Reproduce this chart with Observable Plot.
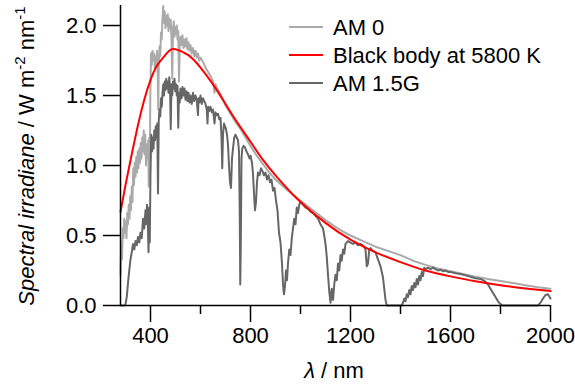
<!DOCTYPE html>
<html><head><meta charset="utf-8">
<script src="https://cdn.jsdelivr.net/npm/d3@7"></script>
<script src="https://cdn.jsdelivr.net/npm/@observablehq/plot@0.6"></script>
<style>body{margin:0;background:#fff}</style>
</head><body><div id="chart"></div>
<script>
// AM 0 (extraterrestrial) spectrum: [wavelength nm, W m-2 nm-1]
const am0 = [
[280,0.22],[283,0.45],[286,0.33],[289,0.55],[292,0.48],[295,0.62],[298,0.52],[301,0.60],[304,0.48],[307,0.66],
[310,0.58],[313,0.72],[316,0.62],[319,0.78],[322,0.68],[325,0.85],[328,0.74],[331,0.98],[334,0.86],[337,1.02],
[340,0.92],[343,1.06],[346,0.95],[349,1.10],[352,0.98],[355,1.12],[358,1.02],[361,1.16],[364,1.05],[367,1.20],
[370,1.10],[373,1.25],[376,1.08],[379,1.22],[382,1.00],[385,1.15],[388,1.05],[391,1.18],[393,0.85],[395,1.20],
[397,0.90],[399,1.45],[402,1.80],[405,1.72],[408,1.82],[411,1.75],[414,1.80],[417,1.70],[420,1.78],[423,1.72],
[426,1.82],[429,1.65],[431,1.40],[433,1.70],[436,1.85],[439,1.78],[442,1.95],[445,1.90],[448,2.05],[451,2.14],
[454,2.02],[457,2.10],[460,1.98],[463,2.07],[466,2.00],[469,2.08],[472,1.96],[475,2.05],[478,1.98],[481,2.04],
[484,1.90],[487,1.62],[490,1.98],[493,2.03],[496,1.92],[499,1.99],[502,1.94],[505,2.00],[508,1.90],[511,1.96],
[514,1.60],[517,1.85],[520,1.92],[524,1.86],[528,1.93],[532,1.84],[536,1.90],[540,1.85],[544,1.91],[548,1.83],
[552,1.88],[556,1.82],[560,1.86],[565,1.80],[570,1.84],[575,1.78],[580,1.82],[585,1.77],[590,1.80],[595,1.75],
[600,1.77],[610,1.74],[620,1.70],[630,1.67],[640,1.64],[650,1.60],[656,1.52],[660,1.58],[670,1.54],[680,1.51],
[690,1.47],[700,1.43],[720,1.37],[740,1.31],[760,1.26],[780,1.20],[800,1.14],[825,1.07],[850,1.01],[875,0.95],
[900,0.90],[950,0.82],[1000,0.75],[1050,0.68],[1100,0.61],[1150,0.55],[1200,0.50],[1250,0.46],[1300,0.42],
[1350,0.39],[1400,0.36],[1450,0.32],[1500,0.29],[1550,0.265],[1600,0.245],[1650,0.225],[1700,0.205],[1750,0.19],
[1800,0.175],[1850,0.16],[1900,0.145],[1950,0.13],[2000,0.12]
];
// Black body at 5800 K (scaled)
const blackBody = [
[280,0.67],[300,0.86],[325,1.08],[350,1.29],[375,1.47],[400,1.61],[425,1.71],[450,1.77],[475,1.82],[500,1.83],
[550,1.79],[600,1.70],[650,1.58],[700,1.44],[750,1.30],[800,1.17],[850,1.04],[900,0.93],[950,0.83],[1000,0.74],
[1100,0.59],[1200,0.47],[1300,0.38],[1400,0.31],[1500,0.25],[1600,0.208],[1700,0.173],[1800,0.145],[1900,0.122],[2000,0.103]
];
// AM 1.5G spectrum
const am15g = [
[280,0],[295,0],[300,0.01],[305,0.06],[310,0.16],[315,0.25],[320,0.33],[325,0.38],[330,0.44],[335,0.40],
[340,0.46],[345,0.43],[350,0.49],[355,0.45],[360,0.52],[365,0.48],[370,0.62],[375,0.55],[380,0.68],[383,0.58],
[386,0.72],[389,0.62],[392,0.38],[395,0.70],[397,0.45],[400,0.95],[403,1.22],[406,1.10],[409,1.20],[412,1.12],
[415,1.25],[418,1.18],[421,1.28],[424,1.20],[427,1.30],[430,0.80],[433,1.32],[436,1.40],[439,1.35],[442,1.48],
[445,1.42],[448,1.52],[451,1.58],[454,1.50],[457,1.60],[460,1.54],[463,1.62],[466,1.55],[469,1.60],[472,1.52],
[475,1.63],[478,1.55],[481,1.26],[484,1.58],[487,1.50],[490,1.60],[493,1.55],[496,1.62],[499,1.53],[502,1.58],
[505,1.50],[508,1.57],[511,1.27],[514,1.52],[517,1.45],[520,1.55],[524,1.48],[528,1.56],[532,1.50],[536,1.55],
[540,1.47],[544,1.53],[548,1.46],[552,1.52],[556,1.45],[560,1.50],[565,1.44],[570,1.52],[575,1.46],[580,1.50],
[585,1.47],[588,1.40],[590,1.36],[592,1.48],[596,1.45],[600,1.50],[605,1.44],[610,1.48],[615,1.46],[620,1.44],
[625,1.40],[628,1.30],[631,1.42],[635,1.39],[640,1.42],[645,1.38],[650,1.40],[656,1.30],[660,1.38],[665,1.36],
[670,1.37],[675,1.33],[680,1.34],[684,1.20],[687,0.98],[690,1.22],[694,1.30],[698,1.28],[702,1.26],[706,1.22],
[710,1.15],[714,1.00],[718,0.88],[722,0.84],[726,1.05],[730,1.12],[735,1.20],[740,1.22],[745,1.20],[750,1.18],
[754,1.10],[757,0.65],[759,0.15],[761,0.40],[764,1.05],[767,1.12],[772,1.14],[778,1.13],[784,1.10],[790,1.08],
[796,1.05],[800,1.07],[806,1.02],[810,0.94],[814,0.80],[818,0.68],[822,0.74],[826,0.88],[830,0.95],[836,0.93],
[842,0.98],[848,0.96],[854,0.93],[860,0.95],[866,0.90],[872,0.93],[878,0.88],[884,0.90],[890,0.82],[896,0.84],
[902,0.75],[908,0.68],[914,0.52],[920,0.45],[926,0.30],[930,0.15],[934,0.08],[938,0.14],[942,0.25],[946,0.18],
[950,0.30],[955,0.40],[960,0.36],[965,0.48],[970,0.55],[975,0.62],[980,0.58],[985,0.70],[990,0.66],[995,0.72],
[1000,0.74],[1010,0.72],[1020,0.70],[1030,0.69],[1040,0.67],[1050,0.66],[1060,0.64],[1070,0.62],[1080,0.58],
[1090,0.55],[1095,0.50],[1100,0.44],[1105,0.35],[1110,0.22],[1115,0.10],[1120,0.02],[1125,0.12],[1130,0.04],
[1135,0.15],[1140,0.22],[1145,0.18],[1150,0.30],[1155,0.25],[1160,0.36],[1165,0.32],[1170,0.40],[1175,0.37],
[1180,0.44],[1190,0.46],[1200,0.45],[1210,0.44],[1220,0.45],[1230,0.43],[1240,0.44],[1250,0.43],[1260,0.40],
[1265,0.28],[1270,0.30],[1275,0.40],[1280,0.41],[1290,0.39],[1300,0.38],[1310,0.33],[1320,0.28],[1330,0.20],
[1335,0.12],[1340,0.04],[1345,0],[1400,0],[1405,0],[1410,0.02],[1415,0.05],[1420,0.03],[1425,0.08],[1430,0.06],
[1435,0.11],[1440,0.08],[1445,0.14],[1450,0.11],[1455,0.16],[1460,0.13],[1465,0.19],[1470,0.15],[1475,0.21],
[1480,0.18],[1485,0.24],[1490,0.21],[1495,0.27],[1500,0.26],[1510,0.27],[1520,0.26],[1530,0.27],[1540,0.26],
[1550,0.25],[1560,0.255],[1570,0.245],[1580,0.25],[1590,0.24],[1600,0.24],[1620,0.23],[1640,0.225],[1660,0.215],
[1680,0.205],[1700,0.195],[1720,0.19],[1740,0.17],[1750,0.15],[1760,0.12],[1770,0.09],[1780,0.06],[1790,0.03],
[1800,0.01],[1810,0],[1950,0],[1960,0.02],[1970,0.05],[1980,0.075],[1990,0.08],[2000,0.05]
];
const xMajorTicks = [400, 800, 1200, 1600, 2000];
const xMinorTicks = [600, 1000, 1400, 1800];
const yTicks = [0, 0.5, 1.0, 1.5, 2.0];
const seriesLabels = ["AM 0", "Black body at 5800 K", "AM 1.5G"];
const seriesColors = ["#aaaaaa", "#ff0000", "#666666"];

const toRows = a => a.map(([nm, v]) => ({nm, v}));
const font = "'Liberation Sans', Arial, sans-serif";

const chart = Plot.plot({
  width: 575, height: 387,
  marginLeft: 120, marginRight: 25, marginTop: 5, marginBottom: 82,
  style: {fontFamily: font, fontSize: "22px", background: "white", color: "black"},
  x: {domain: [280, 2000]},
  y: {domain: [0, 2.143]},
  marks: [
    Plot.line(toRows(am0), {x: "nm", y: "v", stroke: seriesColors[0], strokeWidth: 2}),
    Plot.line(toRows(am15g), {x: "nm", y: "v", stroke: seriesColors[2], strokeWidth: 2}),
    Plot.line(toRows(blackBody), {x: "nm", y: "v", stroke: seriesColors[1], strokeWidth: 2, curve: "natural"}),
    Plot.ruleY([0], {stroke: "black", strokeWidth: 1.5}),
    Plot.ruleX([280], {stroke: "black", strokeWidth: 1.5}),
    Plot.axisX({ticks: xMajorTicks, tickSize: 17, tickPadding: 5, tickFormat: d => String(d), label: null, strokeWidth: 1.5, strokeOpacity: 1}),
    Plot.axisX({ticks: xMinorTicks, tickSize: 9, tickFormat: () => "", label: null, strokeWidth: 1.5, strokeOpacity: 1}),
    Plot.axisY({ticks: yTicks, tickSize: 17, tickPadding: 7, tickFormat: d3.format(".1f"), label: null, strokeWidth: 1.5, strokeOpacity: 1})
  ]
});
document.getElementById("chart").appendChild(chart);

const svg = d3.select(chart);
// Legend
seriesLabels.forEach((lab, i) => {
  const y = 27 + i * 28;
  svg.append("line").attr("x1", 289).attr("x2", 323).attr("y1", y).attr("y2", y)
    .attr("stroke", seriesColors[i]).attr("stroke-width", 2);
  svg.append("text").attr("x", 333).attr("y", y).attr("dy", "0.36em").attr("text-anchor", "start")
    .attr("font-family", font).attr("font-size", 22).attr("fill", "black").text(lab);
});
// X label
const xl = svg.append("text").attr("x", 334).attr("y", 378).attr("text-anchor", "middle")
  .attr("font-family", font).attr("font-size", 22).attr("fill", "black");
xl.append("tspan").attr("font-style", "italic").text("λ");
xl.append("tspan").text(" / nm");
// Y label
const yl = svg.append("text").attr("transform", "translate(34,156) rotate(-90)").attr("text-anchor", "middle")
  .attr("font-family", font).attr("font-size", 22).attr("fill", "black");
yl.append("tspan").attr("font-style", "italic").text("Spectral irradiane");
yl.append("tspan").text(" / W m");
yl.append("tspan").attr("font-size", 15).attr("dy", -9).text("-2");
yl.append("tspan").attr("dy", 9).text(" nm");
yl.append("tspan").attr("font-size", 15).attr("dy", -9).text("-1");
</script>
</body></html>
